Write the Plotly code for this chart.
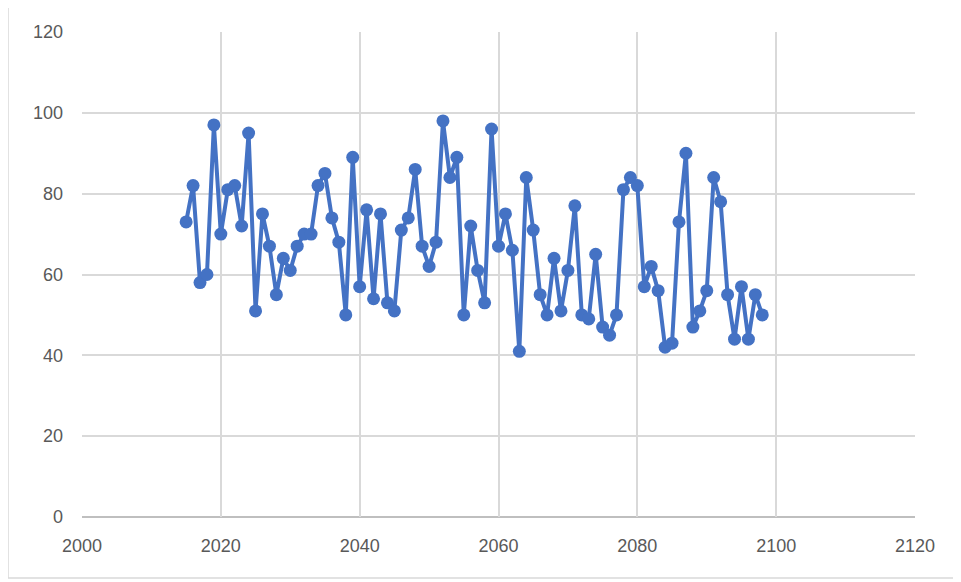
import plotly.graph_objects as go

years = list(range(2015, 2099))
values = [73, 82, 58, 60, 97, 70, 81, 82, 72, 95,
          51, 75, 67, 55, 64, 61, 67, 70, 70, 82,
          85, 74, 68, 50, 89, 57, 76, 54, 75, 53,
          51, 71, 74, 86, 67, 62, 68, 98, 84, 89,
          50, 72, 61, 53, 96, 67, 75, 66, 41, 84,
          71, 55, 50, 64, 51, 61, 77, 50, 49, 65,
          47, 45, 50, 81, 84, 82, 57, 62, 56, 42,
          43, 73, 90, 47, 51, 56, 84, 78, 55, 44,
          57, 44, 55, 50]

x_ticks = [2000, 2020, 2040, 2060, 2080, 2100, 2120]
y_ticks = [0, 20, 40, 60, 80, 100, 120]

fig = go.Figure()
fig.add_trace(go.Scatter(
    x=years, y=values, mode="lines+markers",
    line=dict(color="#4472C4", width=4),
    marker=dict(color="#4472C4", size=13),
    showlegend=False,
))

OFF = 8  # page offset of the figure in the screenshot
W, H = 961, 582
# desired plot area in screen pixels
PL, PR, PT, PB = 82, 915, 32, 517
L = PL - OFF
R = W + OFF - PR
T = PT - OFF
B = H + OFF - PB
pw, ph = PR - PL, PB - PT

def px(sx):
    return (sx - PL) / pw

def py(sy):
    return (PB - sy) / ph

fig.update_layout(
    width=W, height=H,
    margin=dict(l=L, r=R, t=T, b=B, autoexpand=False),
    paper_bgcolor="white", plot_bgcolor="white",
    font=dict(family="Liberation Sans Narrow, Liberation Sans", size=18, color="#595959"),
    xaxis=dict(range=[2000, 2120], tickvals=x_ticks, showgrid=True,
               gridcolor="#D9D9D9", gridwidth=1.5, zeroline=False,
               showline=False, ticks="", ticklabelstandoff=16),
    yaxis=dict(range=[0, 120], tickvals=y_ticks, showgrid=True,
               gridcolor="#D9D9D9", gridwidth=1.5, zeroline=False,
               showline=False, ticks="", ticklabelstandoff=18),
    shapes=[
        dict(type="rect", xref="paper", yref="paper",
             x0=px(8), x1=px(957), y0=py(578), y1=py(4),
             line=dict(color="#D9D9D9", width=1.5), fillcolor="rgba(0,0,0,0)",
             layer="below"),
        dict(type="line", xref="paper", yref="paper", x0=0, x1=1, y0=0, y1=0,
             line=dict(color="#BFBFBF", width=2), layer="below"),
    ],
)

fig.write_html("out.html")
